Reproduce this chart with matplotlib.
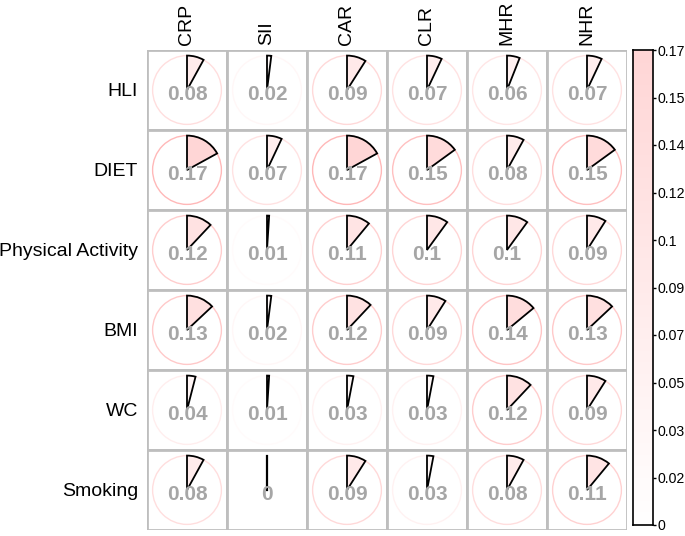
import matplotlib
matplotlib.use("Agg")
import matplotlib.pyplot as plt
from matplotlib.patches import Wedge, Circle, Rectangle
from matplotlib.colors import LinearSegmentedColormap
import numpy as np

rows = ["HLI", "DIET", "Physical Activity", "BMI", "WC", "Smoking"]
cols = ["CRP", "SII", "CAR", "CLR", "MHR", "NHR"]
values = [
    [0.08, 0.02, 0.09, 0.07, 0.06, 0.07],
    [0.17, 0.07, 0.17, 0.15, 0.08, 0.15],
    [0.12, 0.01, 0.11, 0.1, 0.1, 0.09],
    [0.13, 0.02, 0.12, 0.09, 0.14, 0.13],
    [0.04, 0.01, 0.03, 0.03, 0.12, 0.09],
    [0.08, 0, 0.09, 0.03, 0.08, 0.11],
]
cbar_ticks = [0, 0.017, 0.034, 0.051, 0.068, 0.085, 0.102, 0.119, 0.136, 0.153, 0.17]
cbar_labels = ["0", "0.02", "0.03", "0.05", "0.07", "0.09", "0.1", "0.12", "0.14", "0.15", "0.17"]

vmax = 0.17
cmap = LinearSegmentedColormap.from_list("pk", ["#FFFFFF", "#FFD6D6"])
cmap_edge = LinearSegmentedColormap.from_list("pke", ["#FFFFFF", "#FFB8B8"])

plt.rcParams['font.family'] = ['Liberation Sans', 'DejaVu Sans']
W, H = 685, 536
fig = plt.figure(figsize=(W / 100, H / 100), dpi=100)

gx0, gx1, gy0, gy1 = 147, 627, 50, 530
ax = fig.add_axes([gx0 / W, 1 - gy1 / H, (gx1 - gx0) / W, (gy1 - gy0) / H])
n = len(rows)
m = len(cols)
ax.set_xlim(0, m)
ax.set_ylim(0, n)
ax.axis("off")

r = 0.43
for i, rname in enumerate(rows):
    for j, cname in enumerate(cols):
        v = values[i][j]
        cx, cy = j + 0.5, n - i - 0.5
        ax.add_patch(Rectangle((j, n - i - 1), 1, 1, facecolor="white",
                               edgecolor="#BEBEBE", lw=2.0, zorder=1))
        ax.add_patch(Circle((cx, cy), r, facecolor="white",
                            edgecolor=cmap_edge(v / vmax), lw=1.0, zorder=2))
        if v > 0:
            ax.add_patch(Wedge((cx, cy), r, 90 - v * 360, 90,
                               facecolor=cmap(v / vmax), edgecolor="black",
                               lw=1.3, zorder=3))
        else:
            ax.plot([cx, cx], [cy, cy + r], color="black", lw=1.6, zorder=3)
        ax.text(cx, cy - 0.05, f"{v:g}", ha="center", va="center",
                fontsize=15, fontweight="bold", color="#A6A6A6", zorder=4)

for i, rname in enumerate(rows):
    fig.text(138 / W, 1 - (gy0 + 80 * i + 42) / H, rname, ha="right",
             va="center", fontsize=14)
for j, cname in enumerate(cols):
    fig.text((gx0 + 80 * j + 40) / W, 1 - 45 / H, cname, ha="center",
             va="bottom", rotation=90, fontsize=14)

# colorbar
cax = fig.add_axes([633 / W, 1 - 525 / H, 20 / W, 475 / H])
grad = np.linspace(0, vmax, 256).reshape(-1, 1)
cax.imshow(grad, aspect="auto", cmap=cmap, origin="lower",
           extent=[0, 1, 0, vmax], vmin=0, vmax=vmax)
cax.set_xlim(0, 1)
cax.set_ylim(0, vmax)
cax.set_xticks([])
cax.yaxis.tick_right()
cax.set_yticks(cbar_ticks)
cax.set_yticklabels(cbar_labels, fontsize=10.2)
cax.tick_params(axis="y", length=2.5, width=1, pad=0.5)
for s in cax.spines.values():
    s.set_linewidth(1.2)

fig.savefig("out.png", dpi=100)
